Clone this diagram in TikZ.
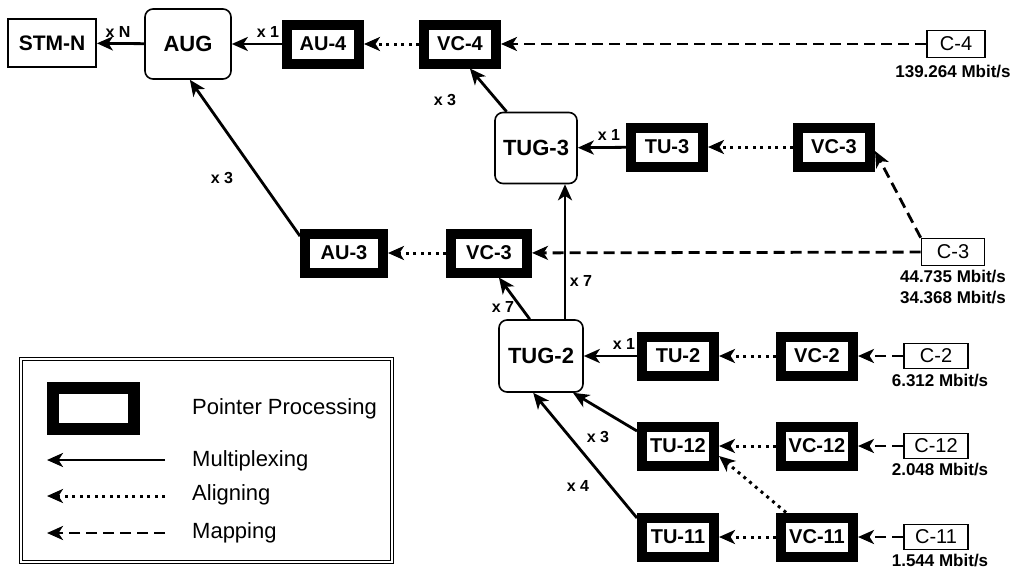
\documentclass[tikz,border=0pt]{standalone}
\usepackage{fontspec}
\setmainfont{Liberation Sans}
\usetikzlibrary{arrows.meta,calc}

\tikzset{
  >={Stealth[length=16pt,width=14pt,inset=4.5pt]},
  ptrbox/.style={draw, line width=10pt, minimum width=72pt, minimum height=39pt,
    inner sep=0pt, outer sep=5pt, font=\fontsize{20}{20}\selectfont\bfseries},
  grpbox/.style={draw, line width=1.6pt, rounded corners=8pt, inner sep=0pt,
    font=\fontsize{22}{22}\selectfont\bfseries},
  contbox/.style={draw, line width=1.6pt, minimum width=64pt, minimum height=25pt,
    inner sep=0pt, font=\fontsize{20}{20}\selectfont},
  ratelbl/.style={inner sep=0pt, font=\fontsize{17}{17}\selectfont\bfseries},
  multlbl/.style={inner sep=0pt, font=\fontsize{16}{16}\selectfont\bfseries},
  mux/.style={->, line width=2.8pt},
  aln/.style={->, line width=3pt, dash pattern=on 3pt off 4.5pt},
  mapp/.style={->, line width=2.8pt, dash pattern=on 11pt off 6pt},
  legtext/.style={anchor=west, inner sep=0pt, font=\fontsize{22}{22}\selectfont},
}

\begin{document}
\begin{tikzpicture}[x=1pt, y=-1pt]
\useasboundingbox (0,0) rectangle (1024,570);

% ---- top row: STM-N / AUG / AU-4 / VC-4 / C-4
\node[draw, line width=1.8pt, minimum width=88pt, minimum height=48pt, inner sep=0pt,
      font=\fontsize{21}{21}\selectfont\bfseries] (stm) at (52,43) {STM-N};
\node[grpbox, minimum width=86pt, minimum height=70pt] (aug) at (188,44) {AUG};
\node[ptrbox] (au4) at (323,44) {AU-4};
\node[ptrbox] (vc4) at (460,44) {VC-4};
\node[contbox, minimum width=58pt, minimum height=27pt] (c4) at (956,44) {C-4};
\node[ratelbl] (r4) at (953,72) {139.264 Mbit/s};

% ---- TUG-3 branch
\node[grpbox, minimum width=82pt, minimum height=71pt] (tug3) at (536,148) {TUG-3};
\node[ptrbox] (tu3) at (667,147) {TU-3};
\node[ptrbox] (vc3u) at (834,147) {VC-3};

% ---- AU-3 branch
\node[ptrbox, minimum width=78pt] (au3) at (344,253) {AU-3};
\node[ptrbox, minimum width=76pt] (vc3l) at (489,253) {VC-3};
\node[contbox, minimum width=63pt, minimum height=27pt] (c3) at (953,252) {C-3};
\node[ratelbl] (r3a) at (953,277) {44.735 Mbit/s};
\node[ratelbl] (r3b) at (953,298) {34.368 Mbit/s};

% ---- TUG-2 branch
\node[grpbox, minimum width=84pt, minimum height=72pt] (tug2) at (541,356) {TUG-2};
\node[ptrbox] (tu2) at (678,356) {TU-2};
\node[ptrbox] (vc2) at (817,356) {VC-2};
\node[contbox] (c2) at (936,356) {C-2};
\node[ratelbl] (r2) at (940,381) {6.312 Mbit/s};

\node[ptrbox] (tu12) at (678,446) {TU-12};
\node[ptrbox] (vc12) at (817,446) {VC-12};
\node[contbox] (c12) at (936,446) {C-12};
\node[ratelbl] (r12) at (940,470) {2.048 Mbit/s};

\node[ptrbox] (tu11) at (678,537) {TU-11};
\node[ptrbox] (vc11) at (817,537) {VC-11};
\node[contbox] (c11) at (936,537) {C-11};
\node[ratelbl] (r11) at (940,561) {1.544 Mbit/s};

% ---- multiplexing
\draw[mux] (aug) -- (stm);
\draw[mux] (au4) -- (aug);
\draw[mux] (au3.159) -- (aug.273);
\draw[mux] (tug3.129) -- (vc4.292);
\draw[mux] (tu3) -- (tug3);
\draw[mux] ([xshift=24pt]tug2.north) -- ([xshift=29pt]tug3.south);
\draw[mux] (tug2.107) -- (vc3l.292);
\draw[mux] (tu2) -- (tug2);
\draw[mux] ([yshift=15pt]tu12.west) -- (tug2.311);
\draw[mux] ([yshift=19pt]tu11.west) -- (tug2.258);

% ---- aligning
\draw[aln] (vc4) -- (au4);
\draw[aln] (vc3u) -- (tu3);
\draw[aln] (vc3l) -- (au3);
\draw[aln] (vc2) -- (tu2);
\draw[aln] (vc12) -- (tu12);
\draw[aln] ([xshift=10pt]vc11.north west) -- ([yshift=-10pt]tu12.east);
\draw[aln] (vc11) -- (tu11);

% ---- mapping
\draw[mapp] (c4) -- (vc4);
\draw[mapp] (c3) -- (vc3l);
\draw[mapp] (c3.north west) -- ([yshift=-4pt]vc3u.east);
\draw[mapp] (c2) -- (vc2);
\draw[mapp] (c12) -- (vc12);
\draw[mapp] (c11) -- (vc11);

% ---- multiplicities
\node[multlbl] (mN)  at (118,32)  {x N};
\node[multlbl] (m1a) at (268,32)  {x 1};
\node[multlbl] (m3a) at (445,100) {x 3};
\node[multlbl] (m3b) at (222,178) {x 3};
\node[multlbl] (m1b) at (609,135) {x 1};
\node[multlbl] (m7a) at (581,281) {x 7};
\node[multlbl] (m7b) at (503,307) {x 7};
\node[multlbl] (m1c) at (624,344) {x 1};
\node[multlbl] (m3c) at (598,437) {x 3};
\node[multlbl] (m4)  at (578,486) {x 4};

% ---- legend
\draw[line width=1.1pt, double, double distance=2pt] (21,359) rectangle (392,562);
\node[draw, line width=12pt, minimum width=81pt, minimum height=41pt, inner sep=0pt]
  (lgbox) at (93.5,408.5) {};
\node[legtext] (lgp) at (192,409) {Pointer Processing};
\node[legtext] (lgm) at (192,461) {Multiplexing};
\node[legtext] (lga) at (192,495) {Aligning};
\node[legtext] (lgd) at (192,533) {Mapping};
\coordinate (m0) at (47,460);  \coordinate (m1) at (165,460);
\coordinate (a0) at (47,496);  \coordinate (a1) at (165,496);
\coordinate (d0) at (47,533);  \coordinate (d1) at (165,533);
\draw[mux] (m1) -- (m0);
\draw[aln] (a1) -- (a0);
\draw[mapp] (d1) -- (d0);
\end{tikzpicture}
\end{document}
